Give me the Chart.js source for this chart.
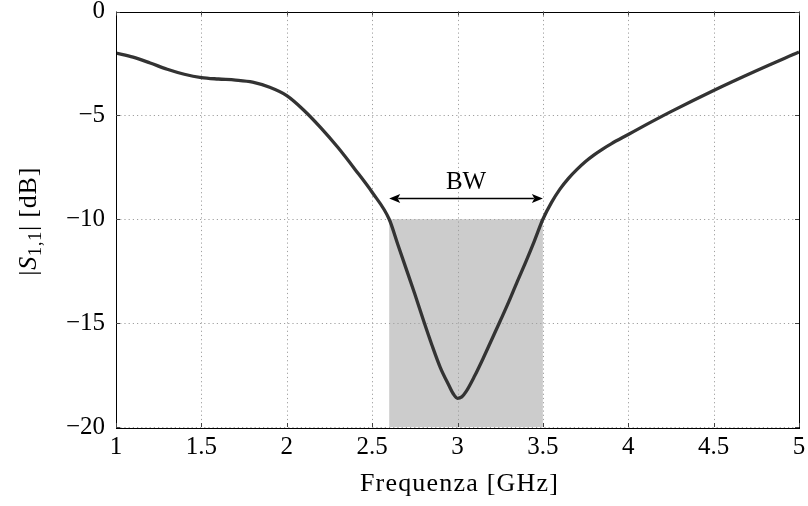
<!DOCTYPE html>
<html>
<head>
<meta charset="utf-8">
<script src="https://cdn.jsdelivr.net/npm/chart.js@4.4.1/dist/chart.umd.min.js"></script>
<style>
html,body{margin:0;padding:0;background:#fff;}
#wrap{width:808px;height:506px;}
</style>
</head>
<body>
<div id="wrap"><canvas id="c" width="808" height="506"></canvas></div>
<script>
// Frequency (GHz) and |S11| (dB)
const freq = [1.0,1.1,1.2,1.3,1.4,1.5,1.6,1.7,1.8,1.9,2.0,2.1,2.2,2.3,2.4,2.5,2.6,2.65,2.7,2.75,2.8,2.85,2.9,2.95,2.975,3.0,3.025,3.05,3.1,3.15,3.2,3.25,3.3,3.35,3.4,3.45,3.5,3.55,3.6,3.65,3.7,3.75,3.8,3.85,3.9,4.0,4.1,4.25,4.5,4.75,5.0];
const s11  = [-2.0,-2.2,-2.48,-2.78,-3.02,-3.18,-3.25,-3.3,-3.4,-3.65,-4.05,-4.75,-5.6,-6.55,-7.6,-8.7,-10.0,-11.2,-12.4,-13.6,-14.85,-16.05,-17.15,-18.0,-18.4,-18.62,-18.55,-18.3,-17.55,-16.7,-15.8,-14.9,-13.98,-13.0,-12.05,-11.05,-10.0,-9.2,-8.55,-8.03,-7.6,-7.22,-6.9,-6.62,-6.37,-5.92,-5.47,-4.82,-3.8,-2.85,-1.95];
const xTicks = [1,1.5,2,2.5,3,3.5,4,4.5,5];
const yTicks = [0,-5,-10,-15,-20];
const bandStart = 2.6, bandEnd = 3.5, bandLevel = -10, arrowLevel = -9.0;
const bandLabel = "BW";
const xTitle = "Frequenza [GHz]";

const SERIF = '"Liberation Serif","DejaVu Serif",serif';

const decor = {
  id: 'decor',
  beforeDatasetsDraw(chart) {
    const {ctx, chartArea: a, scales: {x, y}} = chart;
    ctx.save();
    // band
    const x0 = x.getPixelForValue(bandStart), x1 = x.getPixelForValue(bandEnd);
    const yb = y.getPixelForValue(bandLevel), yz = y.getPixelForValue(y.min);
    ctx.fillStyle = '#cccccc';
    ctx.fillRect(x0, yb, x1 - x0, yz - yb);
    // dotted grid
    ctx.strokeStyle = '#a0a0a0';
    ctx.lineWidth = 1;
    ctx.setLineDash([1.2, 3]);
    xTicks.forEach(v => {
      const px = Math.round(x.getPixelForValue(v)) + 0.5;
      ctx.beginPath(); ctx.moveTo(px, a.top); ctx.lineTo(px, a.bottom); ctx.stroke();
    });
    yTicks.forEach(v => {
      const py = Math.round(y.getPixelForValue(v)) + 0.5;
      ctx.beginPath(); ctx.moveTo(a.left, py); ctx.lineTo(a.right, py); ctx.stroke();
    });
    ctx.setLineDash([]);
    ctx.restore();
  },
  afterDatasetsDraw(chart) {
    const {ctx, chartArea: a, scales: {x, y}} = chart;
    ctx.save();
    // box
    ctx.strokeStyle = '#000';
    ctx.lineWidth = 1;
    ctx.strokeRect(Math.round(a.left) + 0.5, Math.round(a.top) + 0.5, Math.round(a.right - a.left), Math.round(a.bottom - a.top));
    // tick marks inside
    ctx.strokeStyle = '#444';
    xTicks.forEach(v => {
      const px = Math.round(x.getPixelForValue(v)) + 0.5;
      ctx.beginPath();
      ctx.moveTo(px, a.bottom); ctx.lineTo(px, a.bottom - 4);
      ctx.moveTo(px, a.top); ctx.lineTo(px, a.top + 4);
      ctx.stroke();
    });
    yTicks.forEach(v => {
      const py = Math.round(y.getPixelForValue(v)) + 0.5;
      ctx.beginPath();
      ctx.moveTo(a.left, py); ctx.lineTo(a.left + 4, py);
      ctx.moveTo(a.right, py); ctx.lineTo(a.right - 4, py);
      ctx.stroke();
    });
    // BW arrow
    const x0 = x.getPixelForValue(bandStart), x1 = x.getPixelForValue(bandEnd);
    const ya = Math.round(y.getPixelForValue(arrowLevel)) + 0.5;
    ctx.strokeStyle = '#000'; ctx.fillStyle = '#000'; ctx.lineWidth = 1.5;
    const hl = 11, hw = 4.5;
    ctx.beginPath(); ctx.moveTo(x0 + hl - 2, ya); ctx.lineTo(x1 - hl + 2, ya); ctx.stroke();
    ctx.beginPath(); ctx.moveTo(x0, ya); ctx.lineTo(x0 + hl, ya - hw); ctx.lineTo(x0 + hl - 2.5, ya); ctx.lineTo(x0 + hl, ya + hw); ctx.closePath(); ctx.fill();
    ctx.beginPath(); ctx.moveTo(x1, ya); ctx.lineTo(x1 - hl, ya - hw); ctx.lineTo(x1 - hl + 2.5, ya); ctx.lineTo(x1 - hl, ya + hw); ctx.closePath(); ctx.fill();
    ctx.font = '25px ' + SERIF;
    ctx.textAlign = 'center'; ctx.textBaseline = 'alphabetic';
    ctx.fillText(bandLabel, (x0 + x1) / 2, ya - 10);
    // x-axis title
    ctx.font = '26px ' + SERIF;
    ctx.letterSpacing = '1.2px';
    ctx.fillText(xTitle, (a.left + a.right) / 2 + 2, 491);
    // y-axis title with subscript
    ctx.letterSpacing = '0.8px';
    ctx.translate(36, (a.top + a.bottom) / 2 + 2);
    ctx.rotate(-Math.PI / 2);
    const parts = [
      {t: '|', f: '26px ' + SERIF, dy: 0},
      {t: 'S', f: 'italic 26px ' + SERIF, dy: 0},
      {t: '1,1', f: '18px ' + SERIF, dy: 5},
      {t: '| [dB]', f: '26px ' + SERIF, dy: 0}
    ];
    let w = 0;
    parts.forEach(p => { ctx.font = p.f; p.w = ctx.measureText(p.t).width; w += p.w; });
    let cx = -w / 2;
    ctx.textAlign = 'left';
    ctx.fillStyle = '#000';
    parts.forEach(p => { ctx.font = p.f; ctx.fillText(p.t, cx, p.dy); cx += p.w; });
    ctx.letterSpacing = '0px';
    ctx.restore();
  }
};

const fmt = v => (v < 0 ? '\u2212' + Math.abs(v) : String(v));

new Chart(document.getElementById('c'), {
  type: 'line',
  data: {
    datasets: [{
      data: freq.map((f, i) => ({x: f, y: s11[i]})),
      borderColor: '#333333',
      borderWidth: 3.3,
      pointRadius: 0,
      cubicInterpolationMode: 'monotone',
      fill: false
    }]
  },
  options: {
    responsive: false,
    animation: false,
    events: [],
    layout: {padding: {top: 11.5, right: 9, left: 0, bottom: 0}},
    plugins: {legend: {display: false}, tooltip: {enabled: false}},
    scales: {
      x: {
        type: 'linear', min: 1, max: 5,
        afterBuildTicks: s => { s.ticks = xTicks.map(v => ({value: v})); },
        afterFit: s => { s.height = 79; s.paddingLeft = 0; s.paddingRight = 0; },
        grid: {display: false, drawTicks: false},
        border: {display: false},
        ticks: {color: '#000', padding: 5, font: {family: SERIF, size: 25}, callback: fmt, maxRotation: 0, autoSkip: false}
      },
      y: {
        type: 'linear', min: -20, max: 0,
        afterBuildTicks: s => { s.ticks = yTicks.map(v => ({value: v})); },
        afterFit: s => { s.width = 116; s.paddingTop = 0; s.paddingBottom = 0; },
        grid: {display: false, drawTicks: false},
        border: {display: false},
        ticks: {color: '#000', padding: 11, font: {family: SERIF, size: 25}, callback: fmt, autoSkip: false}
      }
    }
  },
  plugins: [decor]
});
</script>
</body>
</html>
